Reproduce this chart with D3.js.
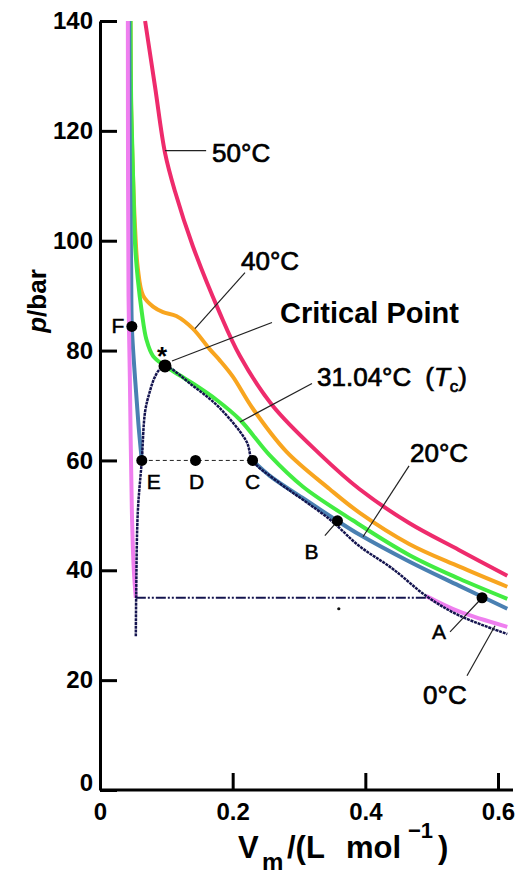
<!DOCTYPE html>
<html>
<head>
<meta charset="utf-8">
<script src="https://cdn.jsdelivr.net/npm/d3@7"></script>
<style>
body { margin: 0; background: #fff; }
svg { display: block; font-family: "Liberation Sans", Arial, Helvetica, sans-serif; }
</style>
</head>
<body>
<div id="chart"></div>
<script>
// CO2 isotherms, [Vm in L/mol, p in bar]
const iso50 = [[0.068,140],[0.083,128],[0.098,116],[0.113,109],[0.14,99],[0.18,87],[0.211,79],
  [0.26,70],[0.331,61.2],[0.391,54.8],[0.466,48.6],[0.541,43.7],[0.614,39]];
const iso40 = [[0.046,140],[0.047,124],[0.05,111],[0.053,102],[0.057,95],[0.065,90],[0.08,88],
  [0.095,87],[0.115,86.3],[0.14,84],[0.165,80.3],[0.18,78.3],[0.2,75.3],[0.23,69.5],[0.281,61.6],
  [0.346,54.8],[0.391,50.5],[0.466,44.8],[0.541,40.7],[0.614,37]];
const isoTc = [[0.046,140],[0.047,125],[0.05,111],[0.053,99],[0.057,93],[0.063,87],[0.07,82],
  [0.08,79],[0.098,77.2],[0.12,75.5],[0.14,74],[0.176,71],[0.211,67.4],[0.256,60.9],[0.306,55.2],
  [0.381,49.1],[0.466,42.8],[0.541,38.5],[0.614,34.8]];
const iso20Liquid = [[0.044,140],[0.045,115],[0.047,95],[0.048,84.4],[0.053,74.7],[0.058,66.5],[0.063,60]];
const iso20Vapor = [[0.23,60],[0.256,57.2],[0.305,53.2],[0.358,49.0],[0.391,46.5],[0.466,41.6],
  [0.541,37.2],[0.614,33]];
const iso0Liquid = [[0.042,140],[0.0423,110],[0.043,90],[0.045,75],[0.048,51],[0.051,40],[0.054,35]];
const iso0Vapor = [[0.492,35.3],[0.541,32.5],[0.614,29.7]];
// two-phase boundary (dotted dome)
const dome = [[0.054,28],[0.0545,35],[0.057,50.6],[0.063,60],[0.068,68.9],[0.075,72.5],[0.082,75],
  [0.09,76.6],[0.098,77.2],[0.14,73.6],[0.18,69.6],[0.221,63.4],[0.23,60],[0.266,56.3],[0.346,49.3],
  [0.391,44.4],[0.441,40.3],[0.492,35.3],[0.541,31.8],[0.614,28.4]];
const tie20 = [[0.063,60],[0.23,60]];
const tie0 = [[0.054,35],[0.492,35]];
const marked = [
  {id: "F", v: 0.048, p: 84.4},
  {id: "*", v: 0.098, p: 77.2},
  {id: "E", v: 0.063, p: 60},
  {id: "D", v: 0.144, p: 60},
  {id: "C", v: 0.230, p: 60},
  {id: "B", v: 0.358, p: 49.0},
  {id: "A", v: 0.576, p: 35}
];
const yTicks = [0, 20, 40, 60, 80, 100, 120, 140];
const xTicks = [0, 0.2, 0.4, 0.6];

var width = 527, height = 874;

var svg = d3.select("#chart").append("svg")
  .attr("width", width)
  .attr("height", height);

var x = d3.scaleLinear().domain([0, 0.6]).range([100, 498]);
var y = d3.scaleLinear().domain([0, 140]).range([790, 21]);

var line = d3.line()
  .x(d => x(d[0]))
  .y(d => y(d[1]))
  .curve(d3.curveCatmullRom.alpha(0.5));

function curve(data, color, w, dash) {
  var p = svg.append("path")
    .datum(data)
    .attr("d", line)
    .attr("fill", "none")
    .attr("stroke", color)
    .attr("stroke-width", w);
  if (dash) p.attr("stroke-dasharray", dash);
  return p;
}

curve(iso50, "#ee2b6c", 4);
curve(iso40, "#f8a51f", 4);
curve(isoTc, "#42ec42", 4);
curve(iso20Liquid, "#4a80b2", 4);
curve(iso20Vapor, "#4a80b2", 4);
curve(iso0Liquid, "#ef7fef", 4);
curve(iso0Vapor, "#ef7fef", 4);
curve(dome, "#14144f", 2.5, "3 0.8");
curve(tie20, "#222", 1, "4 3");
curve(tie0, "#14144f", 2, "10 2 2 2 2 2");

// stray point under the 0 C tie line
svg.append("circle").attr("cx", x(0.36)).attr("cy", y(33)).attr("r", 1.6).attr("fill", "#111");

// axes
var yAxis = svg.append("g")
  .attr("transform", "translate(" + x(0) + ",0)")
  .call(d3.axisLeft(y).tickValues(yTicks).tickSize(-17).tickSizeOuter(0).tickPadding(7));
var xAxis = svg.append("g")
  .attr("transform", "translate(0," + y(0) + ")")
  .call(d3.axisBottom(x).tickValues(xTicks).tickSize(-17).tickSizeOuter(0).tickPadding(13)
    .tickFormat(d => d === 0 ? "0" : d3.format(".1f")(d)));
xAxis.select(".domain").attr("d", "M" + x(0) + ",0H" + (x(0.6) + 15));

[yAxis, xAxis].forEach(function (a) {
  a.select(".domain").attr("stroke", "#000").attr("stroke-width", 3);
  a.selectAll(".tick line").attr("stroke", "#000").attr("stroke-width", 3);
  a.selectAll(".tick text")
    .attr("fill", "#000")
    .style("font-size", "24px")
    .style("font-weight", "bold")
    .style("font-family", "'Liberation Sans', Arial, sans-serif");
});
yAxis.selectAll(".tick").filter(d => d === 0).select("text").attr("dy", "0.0em");

// axis titles
var yt = svg.append("text")
  .attr("transform", "translate(46,301) rotate(-90)")
  .attr("text-anchor", "middle")
  .style("font-size", "26px")
  .style("font-weight", "bold");
yt.append("tspan").style("font-style", "italic").text("p");
yt.append("tspan").text("/bar");

var xt = svg.append("text")
  .attr("y", 858)
  .style("font-size", "31px")
  .style("font-weight", "bold");
xt.append("tspan").attr("x", 238).text("V");
xt.append("tspan").attr("x", 262).attr("dy", 12).style("font-size", "24px").text("m");
xt.append("tspan").attr("x", 287).attr("dy", -12).text("/(L");
xt.append("tspan").attr("x", 346).text("mol");
xt.append("tspan").attr("x", 408).attr("dy", -20).style("font-size", "22px").text("\u22121");
xt.append("tspan").attr("x", 438).attr("dy", 20).text(")");

// leader lines, from label to curve
function leader(v1, p1, v2, p2) {
  svg.append("line")
    .attr("x1", x(v1)).attr("y1", y(p1))
    .attr("x2", x(v2)).attr("y2", y(p2))
    .attr("stroke", "#222").attr("stroke-width", 1.2);
}
leader(0.098, 116.4, 0.160, 116.4);
leader(0.2186, 94.2, 0.1432, 84.0);
leader(0.2593, 85.1, 0.1085, 78.1);
leader(0.3196, 74.0, 0.2111, 67.0);
leader(0.4659, 59.0, 0.3965, 46.1);
leader(0.5533, 20.8, 0.5955, 29.9);
leader(0.5277, 28.8, 0.576, 35);
leader(0.339, 46.3, 0.357, 48.8);

function label(txt, v, p, size, weight) {
  var t = svg.append("text")
    .attr("x", x(v)).attr("y", y(p))
    .style("font-size", size + "px")
    .style("font-weight", weight || "normal")
    .text(txt);
  if (!weight) t.attr("stroke", "#000").attr("stroke-width", 0.7);
  return t;
}
label("50\u00b0C", 0.169, 114.4, 26);
label("40\u00b0C", 0.2126, 94.7, 26);
label("Critical Point", 0.2714, 85.1, 29, "bold");
var tc = label("31.04\u00b0C", 0.3272, 73.6, 26);
tc.append("tspan").attr("dx", 14).text("(");
tc.append("tspan").style("font-style", "italic").text("T");
tc.append("tspan").style("font-size", "17px").attr("dy", 6).text("c");
tc.append("tspan").attr("dy", -6).text(")");
label("20\u00b0C", 0.4674, 59.7, 26);
label("0\u00b0C", 0.487, 15.7, 26);

// marked states
svg.selectAll("circle.state")
  .data(marked)
  .enter().append("circle")
  .attr("class", "state")
  .attr("cx", d => x(d.v))
  .attr("cy", d => y(d.p))
  .attr("r", d => d.id === "*" ? 6.5 : 5.5)
  .attr("fill", "#000");

var offs = {F: [-14, 7], "*": [-3, -1], E: [12, 29], D: [1, 29], C: [0, 29], B: [-26, 38], A: [-43, 41]};
svg.selectAll("text.state")
  .data(marked)
  .enter().append("text")
  .attr("class", "state")
  .attr("x", d => x(d.v) + offs[d.id][0])
  .attr("y", d => y(d.p) + offs[d.id][1])
  .attr("text-anchor", "middle")
  .attr("stroke", d => d.id === "*" ? null : "#000")
  .attr("stroke-width", 0.5)
  .style("font-size", d => d.id === "*" ? "26px" : "21px")
  .style("font-weight", d => d.id === "*" ? "bold" : "normal")
  .text(d => d.id);
</script>
</body>
</html>
